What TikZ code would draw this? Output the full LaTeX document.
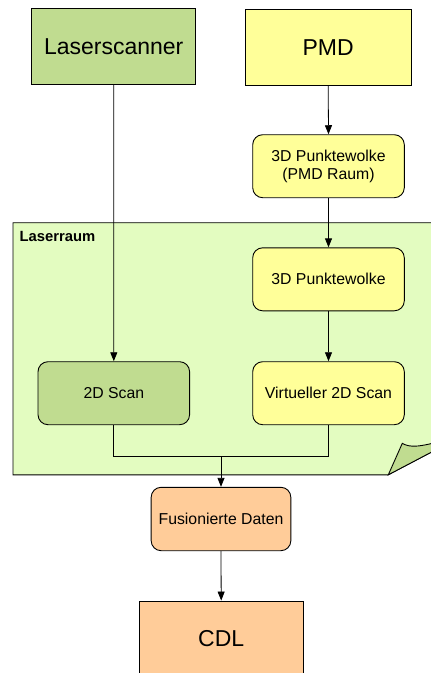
\documentclass[tikz,border=0pt]{standalone}
\usepackage{fontspec}
\setmainfont{Liberation Sans}
\usetikzlibrary{arrows.meta}
\definecolor{lsgreen}{HTML}{C0DC90}
\definecolor{pmdyellow}{HTML}{FFFF99}
\definecolor{roomgreen}{HTML}{E3FCC0}
\definecolor{outorange}{HTML}{FFCC99}
\tikzset{
  bigbox/.style={draw=black, line width=0.9pt, inner sep=0pt, minimum width=164pt, minimum height=76pt, font=\fontsize{23}{27}\selectfont},
  smallbox/.style={draw=black, line width=0.9pt, rounded corners=10pt, inner sep=0pt, minimum width=151.6pt, minimum height=63pt, align=center, font=\fontsize{15.8}{18.5}\selectfont},
  conn/.style={line width=0.8pt, draw=black},
  arr/.style={conn, -{Triangle[length=9pt,width=7pt]}}
}
\begin{document}
\begin{tikzpicture}[x=1pt,y=-1pt]
\useasboundingbox (0,0) rectangle (431,673);
% Laserraum note
\path[fill=roomgreen, draw=black, line width=0.9pt] (13,222.7) -- (460,222.7) -- (460,437) -- (388.3,474.8) -- (13,474.8) -- cycle;
\path[fill=lsgreen, draw=black, line width=0.9pt] (388.3,474.8) -- (402.3,443.3) .. controls (410,448) and (420,447) .. (445,440) -- (445,445) -- cycle;
\node[anchor=west, font=\bfseries\fontsize{14.8}{17}\selectfont, inner sep=0pt] (lr) at (19.5,236) {Laserraum};
% nodes
\node[bigbox, fill=lsgreen] (ls) at (113.7,46.3) {Laserscanner};
\node[bigbox, fill=pmdyellow, minimum width=165.7pt] (pmd) at (328.2,47.3) {PMD};
\node[smallbox, fill=pmdyellow] (pw1) at (328.5,166.2) {3D Punktewolke\\(PMD Raum)};
\node[smallbox, fill=pmdyellow] (pw2) at (328.5,279.3) {3D Punktewolke};
\node[smallbox, fill=lsgreen] (s2d) at (113.8,393.2) {2D Scan};
\node[smallbox, fill=pmdyellow] (v2d) at (328.5,393.2) {Virtueller 2D Scan};
\node[smallbox, fill=outorange, minimum width=139.7pt, minimum height=63.4pt] (fus) at (221,519) {Fusionierte Daten};
\node[bigbox, fill=outorange, minimum width=164.3pt] (cdl) at (221.2,639) {CDL};
\coordinate (join) at (221,456.3);
% connectors
\draw[arr] (ls.south) -- (s2d.north);
\draw[arr] (pmd.south) -- (pw1.north);
\draw[arr] (pw1.south) -- (pw2.north);
\draw[arr] (pw2.south) -- (v2d.north);
\draw[conn] (s2d.south) |- (join) -| (v2d.south);
\draw[arr] (join) -- (fus.north);
\draw[arr] (fus.south) -- (cdl.north);
\end{tikzpicture}
\end{document}
